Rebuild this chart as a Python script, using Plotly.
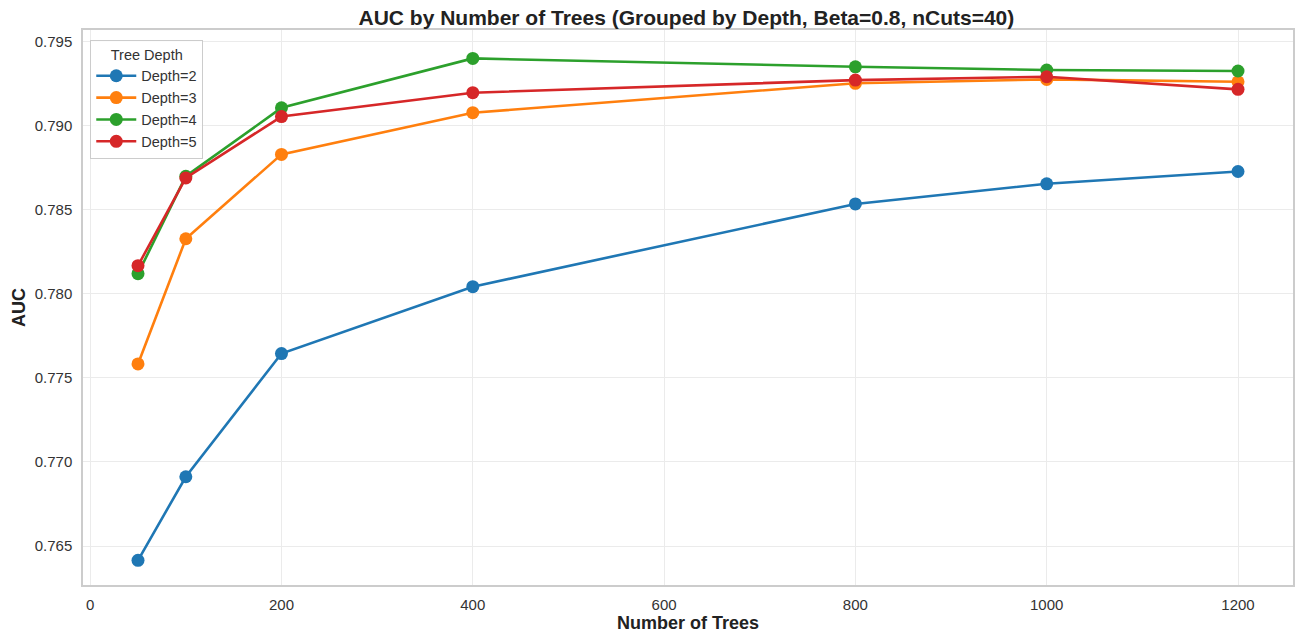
import plotly.graph_objects as go

# Number of trees evaluated
n_trees = [50, 100, 200, 400, 800, 1000, 1200]

# AUC per tree depth
auc_depth2 = [0.76415, 0.76912, 0.77645, 0.78043, 0.78535, 0.78655, 0.78728]
auc_depth3 = [0.77583, 0.78328, 0.78830, 0.79078, 0.79253, 0.79276, 0.79262]
auc_depth4 = [0.78120, 0.78700, 0.79107, 0.79401, 0.79351, 0.79332, 0.79326]
auc_depth5 = [0.78168, 0.78690, 0.79055, 0.79197, 0.79272, 0.79292, 0.79217]

series = [
    ("Depth=2", auc_depth2, "#1f77b4"),
    ("Depth=3", auc_depth3, "#ff7f0e"),
    ("Depth=4", auc_depth4, "#2ca02c"),
    ("Depth=5", auc_depth5, "#d62728"),
]

x_ticks = [0, 200, 400, 600, 800, 1000, 1200]
y_ticks = [0.765, 0.770, 0.775, 0.780, 0.785, 0.790, 0.795]

FONT = "Liberation Sans, Arial, sans-serif"

fig = go.Figure()
for name, vals, color in series:
    fig.add_trace(go.Scatter(
        x=n_trees, y=vals, name=name, mode="lines+markers",
        line=dict(color=color, width=2.6),
        marker=dict(color=color, size=13),
    ))

fig.update_layout(
    width=1300, height=634,
    margin=dict(l=83, r=7, t=30, b=49),
    paper_bgcolor="white", plot_bgcolor="white",
    font=dict(family=FONT, color="#333333", size=15),
    title=dict(
        text="<b>AUC by Number of Trees (Grouped by Depth, Beta=0.8, nCuts=40)</b>",
        x=0.528, xanchor="center", y=0.972, yanchor="middle",
        font=dict(size=21, color="#222222", family=FONT),
    ),
    legend=dict(
        title=dict(text="Tree Depth", side="top center", font=dict(size=14.5)),
        x=0.006, y=0.982, xanchor="left", yanchor="top",
        bgcolor="rgba(255,255,255,0.85)", bordercolor="#cccccc", borderwidth=1,
        font=dict(size=14.5, color="#333333"),
        itemwidth=40, tracegroupgap=0,
    ),
    showlegend=True,
)

fig.update_xaxes(
    range=[-7.5, 1257.5], tickvals=x_ticks, automargin=False,
    showgrid=True, gridcolor="#ebebeb", gridwidth=1, zeroline=False,
    showline=True, linecolor="#cccccc", linewidth=1.5, mirror=True,
    ticks="", ticklen=0, ticklabelstandoff=5,
    tickfont=dict(size=15, color="#333333"),
    title=dict(text="<b>Number of Trees</b>", font=dict(size=18, color="#222222"), standoff=4),
)
fig.update_yaxes(
    range=[0.76268, 0.7957], tickvals=y_ticks, tickformat=".3f", automargin=False,
    showgrid=True, gridcolor="#ebebeb", gridwidth=1, zeroline=False,
    showline=True, linecolor="#cccccc", linewidth=1.5, mirror=True,
    ticks="", ticklen=0, ticklabelstandoff=6,
    tickfont=dict(size=15, color="#333333"),
    title=dict(text="<b>AUC</b>", font=dict(size=18, color="#222222"), standoff=4),
)

fig.write_html("out.html")
